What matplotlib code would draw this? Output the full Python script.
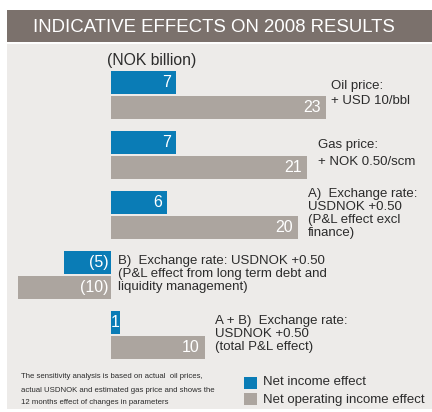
import matplotlib
matplotlib.use('Agg')
import matplotlib.pyplot as plt
from matplotlib.patches import Rectangle

plt.rcParams['font.family'] = ['Liberation Sans', 'DejaVu Sans']

# data (NOK billion)
net_income = [7, 7, 6, -5, 1]
net_operating = [23, 21, 20, -10, 10]
row_labels = ['Oil price:\n+ USD 10/bbl',
              'Gas price:\n+ NOK 0.50/scm',
              'A)  Exchange rate:\nUSDNOK +0.50\n(P&L effect excl\nfinance)',
              'B)  Exchange rate: USDNOK +0.50\n(P&L effect from long term debt and\nliquidity management)',
              'A + B)  Exchange rate:\nUSDNOK +0.50\n(total P&L effect)']
label_pad = [0.5, 1.1, 1.1, 0.7, 1.1]
label_space = [1.35, 1.6, 1.12, 1.12, 1.12]

BLUE = '#0a7cb6'
GREY = '#aca59f'
PANEL = '#edebe9'
TITLEBAR = '#7b716c'
TXT = '#2b2b2b'

W, H = 432, 412
fig = plt.figure(figsize=(W/100, H/100), dpi=100)
fig.patch.set_facecolor('white')

def px_rect(x0, y0, x1, y1, color):
    r = Rectangle((x0/W, 1-y1/H), (x1-x0)/W, (y1-y0)/H, transform=fig.transFigure,
                  facecolor=color, edgecolor='none', zorder=-5)
    fig.add_artist(r)

# backgrounds
px_rect(7, 10, 432, 42, TITLEBAR)
px_rect(7, 44, 432, 409, PANEL)
fig.text(33/W, 1-27/H, 'INDICATIVE EFFECTS ON 2008 RESULTS', color='white',
         fontsize=13.4, va='center', ha='left')

# axes covering the whole figure: x in NOK billion, y in rows
ax = fig.add_axes([0, 0, 1, 1])
ax.patch.set_alpha(0)
scale = 9.35
zero_px = 111
ax.set_xlim(-zero_px/scale, (W-zero_px)/scale)
row_px, first_px = 60, 95
ax.set_ylim((H-first_px)/row_px, -first_px/row_px)
ax.axis('off')

rows = list(range(len(net_income)))
h = 23/row_px
off = 12.5/row_px
ax.barh([r-off for r in rows], net_income, height=h, color=BLUE)
ax.barh([r+off for r in rows], net_operating, height=h, color=GREY)

def fmt(v):
    return '(%d)' % abs(v) if v < 0 else '%d' % v

for r, a, b in zip(rows, net_income, net_operating):
    for v, y in ((a, r-off), (b, r+off)):
        if abs(v) < 2:
            ax.text(v/2, y, fmt(v), color='white', fontsize=11.5, ha='center', va='center')
        elif v > 0:
            ax.text(v-0.55, y, fmt(v), color='white', fontsize=11.5, ha='right', va='center')
        else:
            ax.text(-0.3, y, fmt(v), color='white', fontsize=11.5, ha='right', va='center')

for r, lab, b, pad, ls in zip(rows, row_labels, net_operating, label_pad, label_space):
    ax.text(max(b, 0) + pad, r - 0.02, lab, color=TXT, fontsize=9.5, ha='left',
            va='center', linespacing=ls)

ax.text(-0.4, -0.58, '(NOK billion)', color=TXT, fontsize=11.3, ha='left', va='center')

# legend
px_rect(244, 377, 257, 389, BLUE)
px_rect(244, 393, 257, 405, GREY)
fig.text(263/W, 1-382/H, 'Net income effect', color=TXT, fontsize=9.5, va='center')
fig.text(263/W, 1-400/H, 'Net operating income effect', color=TXT, fontsize=9.5, va='center')

# footnote
notes = ['The sensitivity analysis is based on actual  oil prices,',
         'actual USDNOK and estimated gas price and shows the',
         '12 months effect of changes in parameters']
for i, line in enumerate(notes):
    fig.text(21/W, 1-(377+13*i)/H, line, color=TXT, fontsize=5.6, va='center')

fig.savefig('out.png', dpi=100)
